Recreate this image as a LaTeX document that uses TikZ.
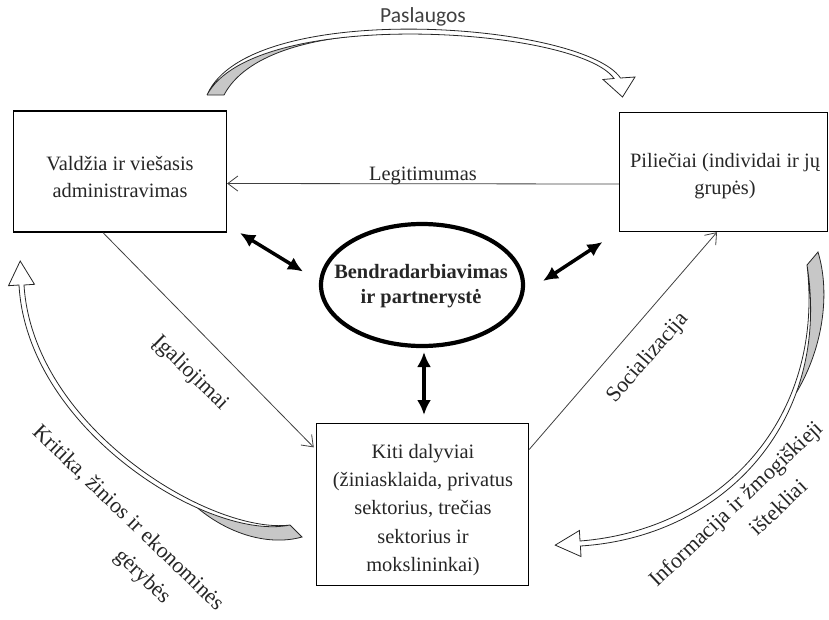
\documentclass[tikz,border=0pt]{standalone}
\usepackage{fontspec}
\setmainfont{Liberation Serif}
\newfontfamily\calibrifont{Carlito}
\usetikzlibrary{arrows.meta,shapes.geometric}
\begin{document}
\begin{tikzpicture}[x=1pt,y=-1pt,
  every node/.style={text=black!85, inner sep=0pt},
  boxtext/.style={font=\fontsize{20.4}{27}\selectfont, align=center},
  box/.style={draw=black, line width=1.3pt, rectangle},
  link/.style={draw=black!75, line width=0.8pt, -{Straight Barb[length=10pt,width=15pt]}},
  bothway/.style={line width=3.5pt, {Latex[length=15pt,width=14pt]}-{Latex[length=15pt,width=14pt]}},
  lbl/.style={font=\fontsize{20.4}{24}\selectfont},
  slant/.style={font=\fontsize{22}{26}\selectfont},
  band/.style={draw=black!85, line width=0.8pt, fill=white, line join=miter},
  shade/.style={fill=black!22},
  rim/.style={draw=black!85, line width=0.8pt}
]
\useasboundingbox (0,0) rectangle (829,619);

% ---- boxes ----
\node[box, minimum width=213pt, minimum height=121pt] (gov) at (120,171.5) {};
\node[boxtext] (govtxt) at (120,177) {Valdžia ir viešasis\\administravimas};

\node[box, minimum width=208pt, minimum height=119pt] (cit) at (723.5,172) {};
\node[boxtext] (cittxt) at (725,176) {Piliečiai (individai ir jų\\grupės)};

\node[box, minimum width=212pt, minimum height=162pt] (kiti) at (422.5,504.5) {};
\node[boxtext, font=\fontsize{20.4}{28.3}\selectfont] (kititxt) at (423,510)
  {Kiti dalyviai\\(žiniasklaida, privatus\\sektorius, trečias\\sektorius ir\\mokslininkai)};

% ---- central ellipse ----
\node[ellipse, draw=black, line width=4.2pt, minimum width=202pt, minimum height=122pt] (coop) at (422,285) {};
\node[font=\bfseries\fontsize{20.4}{25.5}\selectfont, align=center] (cooptxt) at (421,286)
  {Bendradarbiavimas\\ir partnerystė};

% ---- two-way arrows around the ellipse ----
\coordinate (dL1) at (240,233);   \coordinate (dL2) at (303,271.5);
\coordinate (dR1) at (543,281);   \coordinate (dR2) at (602.5,242);
\coordinate (dV1) at (424,352);   \coordinate (dV2) at (424,415);
\draw[bothway] (dL1) -- (dL2);
\draw[bothway] (dR1) -- (dR2);
\draw[bothway] (dV1) -- (dV2);

% ---- straight flows ----
\draw[link] ([yshift=-12pt]cit.west) -- node[lbl, anchor=base, yshift=3pt] (legit) {Legitimumas} ([yshift=-12pt]gov.east);
\draw[link, shorten >=3pt] ([xshift=-17pt]gov.south) -- ([yshift=55pt]kiti.west);
\draw[link] ([yshift=55pt]kiti.east) -- ([xshift=-6.5pt]cit.south);

\node[slant, rotate=-44] (igal) at (190,373) {Įgaliojimai};
\node[slant, rotate=49] (soc) at (648,358) {Socializacija};

% ---- curved arrow on top ----
\begin{scope}
  \clip (207,95) .. controls (254,6) and (578,27) .. (614,78.5) -- (614,130) -- (180,130) -- (180,95) -- cycle;
  \fill[shade] (207,95) -- (224,95) .. controls (245,55) and (310,36) .. (387.5,34.1) -- (207,20) -- cycle;
\end{scope}
\draw[rim] (207,95) -- (224,95) .. controls (245,55) and (310,36) .. (387.5,34.1);
\draw[band] (207,95) .. controls (249,-2) and (582,22) .. (620.5,78) -- (635,77) -- (622.5,97)
  -- (603,79.5) -- (614,78.5) .. controls (578,27) and (254,6) .. (207,95) -- cycle;
\node[font=\calibrifont\fontsize{21.5}{24}\selectfont, text=black!75] (pasl) at (423,17) {Paslaugos};

% ---- curved arrow on the left ----
\begin{scope}
  \clip (290,525) .. controls (210,542) and (27,430) .. (19,285) -- (-20,285) -- (-20,640) -- (330,640) -- (330,525) -- cycle;
  \fill[shade] (290,525) -- (302,537) .. controls (270,546) and (230,535) .. (197.7,508.1) -- (200,470) -- cycle;
\end{scope}
\draw[rim] (290,525) -- (302,537) .. controls (270,546) and (230,535) .. (197.7,508.1);
\draw[band] (290,525) .. controls (210,542) and (27,430) .. (19,285) -- (8.5,285.7) -- (20.2,261)
  -- (34.5,284.3) -- (24,285) .. controls (33,428) and (212,535) .. (290,525) -- cycle;
\node[slant, rotate=-44] (krit1) at (128,518) {Kritika, žinios ir ekonominės};
\node[slant, rotate=-44] (krit2) at (142,577) {gėrybės};

% ---- curved arrow on the right ----
\begin{scope}
  \clip (807,265) .. controls (832,421) and (724,537) .. (580.4,546) -- (580.4,640) -- (850,640) -- (850,240) -- (807,240) -- cycle;
  \fill[shade] (807,265) -- (818,252) .. controls (831,295) and (822,350) .. (796.2,392.8) -- (770,340) -- cycle;
\end{scope}
\draw[rim] (807,265) -- (818,252) .. controls (831,295) and (822,350) .. (796.2,392.8);
\draw[band] (807,265) .. controls (832,421) and (724,537) .. (580.4,546) -- (581,556.5) -- (555.2,545.1)
  -- (579.4,530.5) -- (580,541) .. controls (720,530) and (825,420) .. (807,265) -- cycle;
\node[slant, rotate=43.5] (info1) at (737,505) {Informacija ir žmogiškieji};
\node[slant, rotate=43.5] (info2) at (778,507) {ištekliai};
\end{tikzpicture}
\end{document}
